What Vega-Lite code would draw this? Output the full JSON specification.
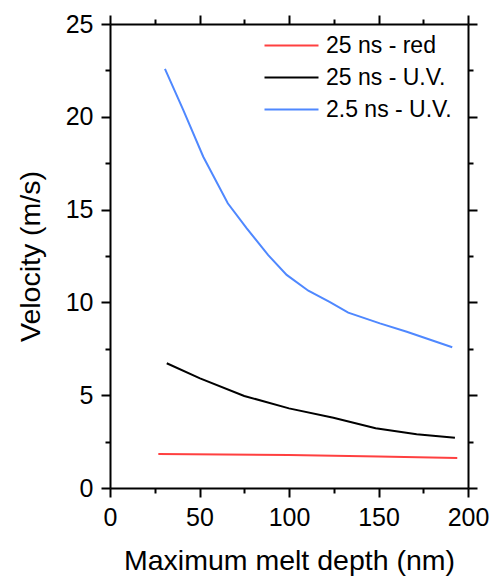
{
  "$schema": "https://vega.github.io/schema/vega-lite/v6.json",
  "width": 358,
  "height": 464,
  "autosize": "none",
  "padding": {"left": 110, "top": 24, "right": 23, "bottom": 89},
  "config": {
    "view": {"stroke": null},
    "font": "Liberation Sans",
    "axis": {
      "grid": false,
      "domainColor": "black",
      "domainWidth": 2,
      "tickColor": "black",
      "tickWidth": 2,
      "labelColor": "black",
      "titleColor": "black",
      "labelFont": "Liberation Sans",
      "titleFont": "Liberation Sans",
      "labelFontSize": 25,
      "titleFontSize": 28.5,
      "titleFontWeight": "normal"
    },
    "legend": {
      "labelFont": "Liberation Sans",
      "labelFontSize": 23,
      "labelColor": "black"
    }
  },
  "data": {
    "values": [
      {"series": "2.5 ns - U.V.", "depth": 30.7, "v": 22.58},
      {"series": "2.5 ns - U.V.", "depth": 40.9, "v": 20.37},
      {"series": "2.5 ns - U.V.", "depth": 52.1, "v": 17.85},
      {"series": "2.5 ns - U.V.", "depth": 65.8, "v": 15.34},
      {"series": "2.5 ns - U.V.", "depth": 76.4, "v": 13.99},
      {"series": "2.5 ns - U.V.", "depth": 88.4, "v": 12.55},
      {"series": "2.5 ns - U.V.", "depth": 98.7, "v": 11.48},
      {"series": "2.5 ns - U.V.", "depth": 110.8, "v": 10.63},
      {"series": "2.5 ns - U.V.", "depth": 122.9, "v": 10.02},
      {"series": "2.5 ns - U.V.", "depth": 133.1, "v": 9.45},
      {"series": "2.5 ns - U.V.", "depth": 150.8, "v": 8.87},
      {"series": "2.5 ns - U.V.", "depth": 165.8, "v": 8.42},
      {"series": "2.5 ns - U.V.", "depth": 191.2, "v": 7.58},
      {"series": "25 ns - U.V.", "depth": 31.7, "v": 6.72},
      {"series": "25 ns - U.V.", "depth": 50.3, "v": 5.91},
      {"series": "25 ns - U.V.", "depth": 75.0, "v": 4.96},
      {"series": "25 ns - U.V.", "depth": 100.0, "v": 4.29},
      {"series": "25 ns - U.V.", "depth": 124.8, "v": 3.79},
      {"series": "25 ns - U.V.", "depth": 148.4, "v": 3.22},
      {"series": "25 ns - U.V.", "depth": 171.3, "v": 2.89},
      {"series": "25 ns - U.V.", "depth": 192.7, "v": 2.71},
      {"series": "25 ns - red", "depth": 27.0, "v": 1.83},
      {"series": "25 ns - red", "depth": 100.0, "v": 1.78},
      {"series": "25 ns - red", "depth": 150.0, "v": 1.70},
      {"series": "25 ns - red", "depth": 194.0, "v": 1.62}
    ]
  },
  "layer": [
    {
      "mark": {"type": "line", "strokeWidth": 2},
      "encoding": {
        "x": {
          "field": "depth",
          "type": "quantitative",
          "scale": {"domain": [0, 200], "nice": false, "zero": false},
          "axis": {
            "orient": "bottom",
            "values": [0, 25, 50, 75, 100, 125, 150, 175, 200],
            "labelExpr": "datum.value % 50 === 0 ? datum.label : ''",
            "tickSize": {"condition": {"test": "datum.value % 50 === 0", "value": 9}, "value": 5},
            "labelPadding": 8,
            "labelFlush": false,
            "labelOverlap": false,
            "title": "Maximum melt depth (nm)",
            "titlePadding": 16
          }
        },
        "y": {
          "field": "v",
          "type": "quantitative",
          "scale": {"domain": [0, 25], "nice": false, "zero": false},
          "axis": {
            "orient": "left",
            "values": [0, 2.5, 5, 7.5, 10, 12.5, 15, 17.5, 20, 22.5, 25],
            "labelExpr": "datum.value % 5 === 0 ? datum.label : ''",
            "tickSize": {"condition": {"test": "datum.value % 5 === 0", "value": 9}, "value": 5},
            "labelPadding": 8,
            "labelFlush": false,
            "labelOverlap": false,
            "title": "Velocity (m/s)",
            "titlePadding": 20
          }
        },
        "color": {
          "field": "series",
          "type": "nominal",
          "scale": {
            "domain": ["25 ns - red", "25 ns - U.V.", "2.5 ns - U.V."],
            "range": ["#ff4040", "#000000", "#4f88ff"]
          },
          "legend": {
            "title": null,
            "orient": "none",
            "legendX": 170,
            "legendY": 10,
            "padding": 0,
            "symbolType": "M-2.7,0H2.7",
            "symbolSize": 400,
            "symbolStrokeWidth": 2,
            "labelOffset": 23,
            "rowPadding": 8
          }
        }
      }
    },
    {
      "mark": {"type": "point", "opacity": 0},
      "encoding": {
        "x": {
          "field": "depth",
          "type": "quantitative",
          "axis": {
            "orient": "top",
            "values": [0, 25, 50, 75, 100, 125, 150, 175, 200],
            "labels": false,
            "tickSize": {"condition": {"test": "datum.value % 50 === 0", "value": 9}, "value": 5},
            "title": null
          }
        },
        "y": {
          "field": "v",
          "type": "quantitative",
          "axis": {
            "orient": "right",
            "values": [0, 2.5, 5, 7.5, 10, 12.5, 15, 17.5, 20, 22.5, 25],
            "labels": false,
            "tickSize": {"condition": {"test": "datum.value % 5 === 0", "value": 9}, "value": 5},
            "title": null
          }
        }
      }
    }
  ],
  "resolve": {"axis": {"x": "independent", "y": "independent"}}
}
